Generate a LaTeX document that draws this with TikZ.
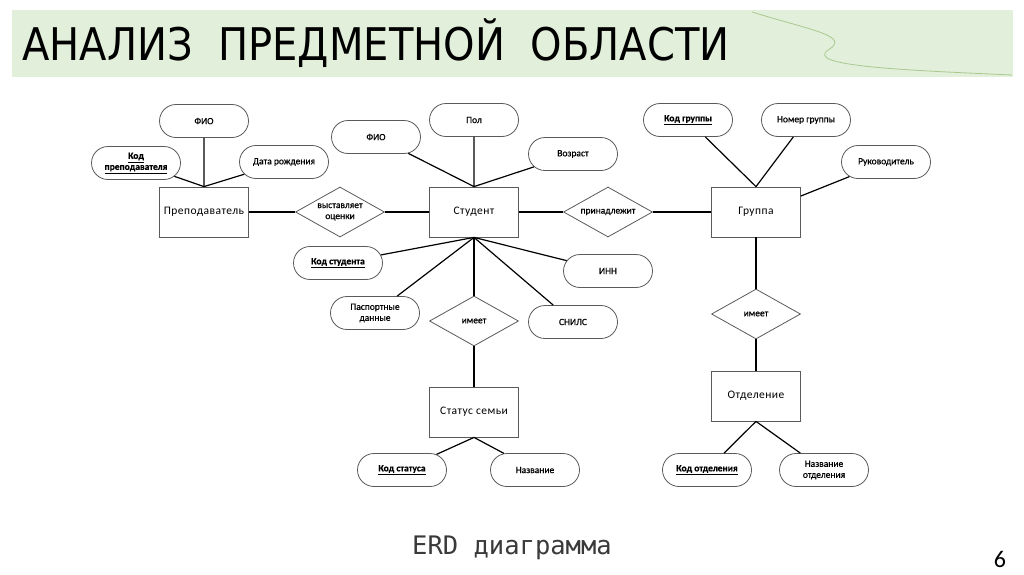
\documentclass[tikz,border=0pt]{standalone}
\usepackage{fontspec}
\setmainfont{Carlito}
\newfontfamily\titlefont[FakeStretch=0.89]{DejaVu Sans}
\newfontfamily\erdfont{DejaVu Sans Mono}
\newfontfamily\lblfont[FakeBold=0.5]{Carlito}
\usetikzlibrary{shapes.geometric,shapes.misc}
\definecolor{bannergreen}{HTML}{E2EFDA}
\definecolor{curvegreen}{HTML}{A9C98F}
\definecolor{edgegray}{HTML}{5A5A5A}
\definecolor{erdgray}{HTML}{3A3A3A}
\newcommand\keyattr[1]{\textbf{\underline{#1}}}
\tikzset{
  entity/.style={draw=edgegray, line width=0.8pt, rectangle, minimum width=89pt, minimum height=50pt, inner sep=0pt, font=\fontsize{11.5}{13}\selectfont\addfontfeature{LetterSpace=4}},
  attr/.style={draw=edgegray, line width=0.8pt, rounded rectangle, minimum width=89pt, minimum height=33pt, inner sep=0pt, align=center, font=\lblfont\fontsize{9.5}{11}\selectfont},
  rel/.style={draw=edgegray, line width=0.8pt, diamond, minimum width=89pt, minimum height=50pt, inner sep=0pt, aspect=1.78, align=center, font=\lblfont\fontsize{9.5}{11}\selectfont},
  link/.style={draw=black, line width=1.2pt},
}
\begin{document}
\begin{tikzpicture}[x=1pt,y=-1pt]
\useasboundingbox (0,0) rectangle (1024,574);
\fill[white] (0,0) rectangle (1024,574);
% banner
\fill[bannergreen] (12,10) rectangle (1013,77);
\draw[curvegreen, line width=0.8pt] (752,12) .. controls (810,30) and (852,36) .. (828,50) .. controls (805,66) and (900,70) .. (1012,75);
\node[anchor=base west, inner sep=0pt, font=\titlefont\fontsize{45}{50}\selectfont] (title) at (22,60) {АНАЛИЗ\ \ ПРЕДМЕТНОЙ\ \ ОБЛАСТИ};

% nodes
\node[entity] (prep) at (204,212) {Преподаватель};
\node[attr] (fio1) at (204,121) {ФИО};
\node[attr] (kprep) at (136,163) {\keyattr{Код}\\\keyattr{преподавателя}};
\node[attr] (dr) at (284,162) {Дата рождения};
\node[rel] (vo) at (340,212) {выставляет\\оценки};
\node[entity] (stud) at (474,212) {Студент};
\node[attr] (fio2) at (376,137) {ФИО};
\node[attr] (pol) at (474,120) {Пол};
\node[attr] (voz) at (573,154) {Возраст};
\node[rel] (prin) at (608,212) {принадлежит};
\node[entity] (grp) at (756,212) {Группа};
\node[attr] (kgrp) at (688,120) {\keyattr{Код группы}};
\node[attr] (ngrp) at (806,120) {Номер группы};
\node[attr] (ruk) at (886,162) {Руководитель};
\node[attr] (kstud) at (338,263) {\keyattr{Код студента}};
\node[attr] (inn) at (608,271) {ИНН};
\node[attr] (pasp) at (375,313) {Паспортные\\данные};
\node[attr] (snils) at (573,322) {СНИЛС};
\node[rel] (im1) at (474,321) {имеет};
\node[entity] (stat) at (474,412) {Статус семьи};
\node[attr] (kstat) at (402,470) {\keyattr{Код статуса}};
\node[attr] (nazv) at (535,470) {Название};
\node[rel] (im2) at (756,314) {имеет};
\node[entity] (otd) at (756,396) {Отделение};
\node[attr] (kotd) at (707,470) {\keyattr{Код отделения}};
\node[attr] (notd) at (824,470) {Название\\отделения};

% connectors
\draw[link] (fio1) -- (prep.north);
\draw[link] (kprep) -- (prep.north);
\draw[link] (dr) -- (prep.north);
\draw[link] (prep) -- (vo);
\draw[link] (vo) -- (stud);
\draw[link] (fio2) -- (stud.north);
\draw[link] (pol) -- (stud.north);
\draw[link] (voz) -- (stud.north);
\draw[link] (stud) -- (prin);
\draw[link] (prin) -- (grp);
\draw[link] (kgrp) -- (grp.north);
\draw[link] (ngrp) -- (grp.north);
\draw[link] (ruk) -- ([yshift=16pt]grp.east);
\draw[link] (kstud) -- (stud.south);
\draw[link] (inn) -- (stud.south);
\draw[link] (pasp) -- (stud.south);
\draw[link] (snils) -- (stud.south);
\draw[link] (stud.south) -- (im1.north);
\draw[link] (im1.south) -- (stat.north);
\draw[link] (kstat) -- (stat.south);
\draw[link] (nazv) -- (stat.south);
\draw[link] (grp.south) -- (im2.north);
\draw[link] (im2.south) -- (otd.north);
\draw[link] (kotd) -- (otd.south);
\draw[link] (notd) -- (otd.south);

% footer texts
\node[anchor=base west, inner sep=0pt, text=erdgray, font=\erdfont\fontsize{25.5}{30}\selectfont] (erd) at (412,554) {ERD диаграмма};
\node[anchor=base, inner sep=0pt, font=\fontsize{24}{28}\selectfont] (page) at (1000,567) {6};
\end{tikzpicture}
\end{document}
